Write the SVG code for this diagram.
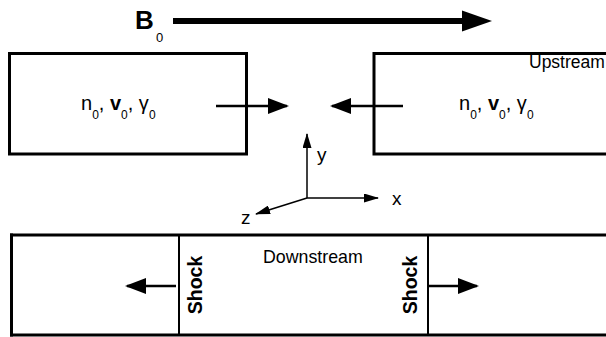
<svg xmlns="http://www.w3.org/2000/svg" width="606" height="337" viewBox="0 0 606 337">
<style>
.box{fill:none;stroke:#000;stroke-width:3}
.thin{fill:none;stroke:#000;stroke-width:2}
.t{font-family:"Liberation Sans",Arial,sans-serif;fill:#000}
.arr{stroke:#000;stroke-width:2.5;fill:none}
.ax{stroke:#000;stroke-width:1.5;fill:none}
</style>
<defs>
<marker id="ah" markerUnits="userSpaceOnUse" markerWidth="21" markerHeight="16" refX="19" refY="8" orient="auto">
<path d="M0,0 L21,8 L0,16 z" fill="#000"/>
</marker>
<marker id="sh" markerUnits="userSpaceOnUse" markerWidth="15" markerHeight="9" refX="14" refY="4.5" orient="auto">
<path d="M0,0 L15,4.5 L0,9 z" fill="#000"/>
</marker>
</defs>
<rect width="606" height="337" fill="#fff"/>
<g id="field">
<line x1="173" y1="21" x2="465" y2="21" stroke="#000" stroke-width="6"/>
<polygon points="462,10.5 492,21 462,31.5" fill="#000"/>
<text class="t" x="135" y="29" font-size="26" font-weight="bold">B</text>
<text class="t" x="156" y="42" font-size="13">0</text>
</g>
<g id="left-box">
<rect class="box" x="9.5" y="53.5" width="237" height="100.5"/>
<text class="t" x="81" y="110" font-size="20">n<tspan font-size="12" dy="9">0</tspan><tspan dy="-9">, </tspan><tspan font-weight="bold">v</tspan><tspan font-size="12" dy="9">0</tspan><tspan dy="-9">, γ</tspan><tspan font-size="12" dy="9">0</tspan></text>
</g>
<g id="upstream-box">
<rect class="box" x="374" y="53.5" width="240" height="100.5"/>
<text class="t" x="529" y="68" font-size="17.5">Upstream</text>
<text class="t" x="459" y="110" font-size="20">n<tspan font-size="12" dy="9">0</tspan><tspan dy="-9">, </tspan><tspan font-weight="bold">v</tspan><tspan font-size="12" dy="9">0</tspan><tspan dy="-9">, γ</tspan><tspan font-size="12" dy="9">0</tspan></text>
</g>
<g id="axes">
<line class="ax" x1="307" y1="198" x2="307" y2="134" marker-end="url(#sh)"/>
<line class="ax" x1="307" y1="198" x2="378" y2="198" marker-end="url(#sh)"/>
<line class="ax" x1="307" y1="198" x2="256" y2="214" marker-end="url(#sh)"/>
<text class="t" x="317" y="161" font-size="19">y</text>
<text class="t" x="392" y="205" font-size="19">x</text>
<text class="t" x="241" y="224" font-size="19">z</text>
</g>
<g id="downstream-box">
<line class="box" x1="10" y1="235" x2="606" y2="235"/>
<line class="box" x1="10" y1="335" x2="606" y2="335"/>
<line class="box" x1="11.5" y1="233.5" x2="11.5" y2="336.5"/>
<line class="thin" x1="179" y1="235" x2="179" y2="335"/>
<line class="thin" x1="428" y1="235" x2="428" y2="335"/>
<text class="t" x="263" y="263" font-size="17.8">Downstream</text>
<text class="t" font-size="19.5" font-weight="bold" text-anchor="middle" transform="translate(202,285) rotate(-90)">Shock</text>
<text class="t" font-size="19.5" font-weight="bold" text-anchor="middle" transform="translate(417,285) rotate(-90)">Shock</text>
</g>
<g id="connectors">
<line class="arr" x1="216" y1="106" x2="287" y2="106" marker-end="url(#ah)"/>
<line class="arr" x1="403" y1="106" x2="332" y2="106" marker-end="url(#ah)"/>
<line class="arr" x1="176" y1="286" x2="127" y2="286" marker-end="url(#ah)"/>
<line class="arr" x1="429" y1="286" x2="477" y2="286" marker-end="url(#ah)"/>
</g>
</svg>
